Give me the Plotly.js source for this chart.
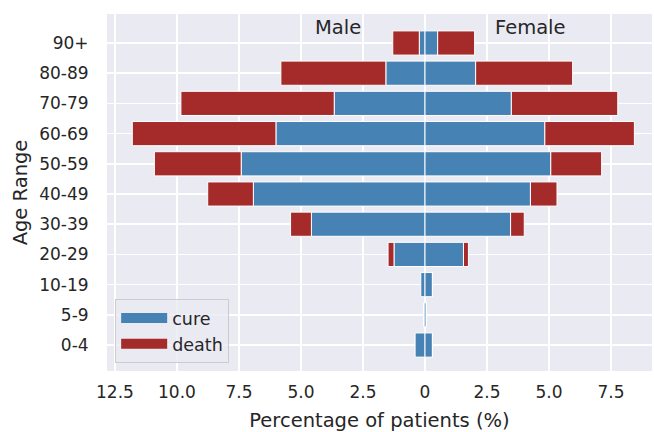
<!DOCTYPE html>
<html>
<head>
<meta charset="utf-8">
<script src="https://cdn.plot.ly/plotly-3.0.1.min.js"></script>
<style>html,body{margin:0;padding:0;background:#fff;}#chart{width:654px;height:432px;}</style>
</head>
<body>
<div id="chart"></div>
<script>
const ageRanges = ["0-4","5-9","10-19","20-29","30-39","40-49","50-59","60-69","70-79","80-89","90+"];
const maleCure   = [0.40, 0.06, 0.17, 1.25, 4.58, 6.92, 7.41, 6.01, 3.66, 1.58, 0.23];
const maleDeath  = [0.00, 0.00, 0.00, 0.24, 0.84, 1.84, 3.50, 5.79, 6.18, 4.23, 1.07];
const femaleCure = [0.30, 0.06, 0.30, 1.55, 3.45, 4.25, 5.07, 4.83, 3.48, 2.04, 0.51];
const femaleDeath= [0.00, 0.00, 0.00, 0.20, 0.55, 1.07, 2.05, 3.61, 4.29, 3.91, 1.49];
const xTickVals  = [-12.5, -10, -7.5, -5, -2.5, 0, 2.5, 5, 7.5];
const xTickText  = ["12.5","10.0","7.5","5.0","2.5","0","2.5","5.0","7.5"];
const seriesNames = ["cure", "death"];

const cureColor = "#4682b4";
const deathColor = "#a52a2a";
const edge = {color: "white", width: 1};
const neg = a => a.map(v => -v);
const font = "DejaVu Sans, sans-serif";
const txt = "#262626";

const traces = [
  {type:"bar", orientation:"h", y: ageRanges, x: neg(maleCure), name:seriesNames[0],
   marker:{color:cureColor, line:edge}, width:0.8, showlegend:false},
  {type:"bar", orientation:"h", y: ageRanges, x: femaleCure, name:seriesNames[0],
   marker:{color:cureColor, line:edge}, width:0.8, showlegend:false},
  {type:"bar", orientation:"h", y: ageRanges, x: neg(maleDeath), name:seriesNames[1],
   marker:{color:deathColor, line:edge}, width:0.8, showlegend:false},
  {type:"bar", orientation:"h", y: ageRanges, x: femaleDeath, name:seriesNames[1],
   marker:{color:deathColor, line:edge}, width:0.8, showlegend:false},
  // legend-only entries drawn as wide patches
  {type:"scatter", mode:"lines", x:[null], y:[null], name:seriesNames[0],
   line:{color:cureColor, width:10}, showlegend:true, hoverinfo:"skip"},
  {type:"scatter", mode:"lines", x:[null], y:[null], name:seriesNames[1],
   line:{color:deathColor, width:10}, showlegend:true, hoverinfo:"skip"}
];

const layout = {
  width:654, height:432,
  margin:{l:107, r:2, t:14, b:61},
  paper_bgcolor:"#ffffff", plot_bgcolor:"#eaeaf2",
  barmode:"relative",
  font:{family:font, color:txt, size:17},
  xaxis:{range:[-12.82, 9.15], tickvals:xTickVals, ticktext:xTickText,
         showgrid:true, gridcolor:"#ffffff", gridwidth:1.5, zeroline:false,
         ticks:"outside", ticklen:6, tickcolor:"rgba(0,0,0,0)",
         tickfont:{size:17, color:txt}, showline:false,
         title:{text:"Percentage of patients (%)", font:{size:19.5, color:txt}, standoff:12}},
  yaxis:{type:"category", range:[-0.86, 10.96], showgrid:true, gridcolor:"#ffffff", gridwidth:1.5,
         ticks:"outside", ticklen:14, tickcolor:"rgba(0,0,0,0)",
         tickfont:{size:17, color:txt}, showline:false, zeroline:false,
         title:{text:"Age Range", font:{size:19.5, color:txt}, standoff:6}},
  legend:{x:0.015, y:0.022, xanchor:"left", yanchor:"bottom",
          bgcolor:"rgba(234,234,242,0.8)", bordercolor:"#cccccc", borderwidth:1,
          font:{size:17.5, color:txt}, traceorder:"normal", itemwidth:46},
  annotations:[
    {x:-3.5, y:10.5, xref:"x", yref:"y", text:"Male", showarrow:false, font:{size:19.5, color:txt}},
    {x:4.27, y:10.5, xref:"x", yref:"y", text:"Female", showarrow:false, font:{size:19.5, color:txt}}
  ]
};

Plotly.newPlot("chart", traces, layout, {displayModeBar:false, staticPlot:true});
</script>
</body>
</html>
